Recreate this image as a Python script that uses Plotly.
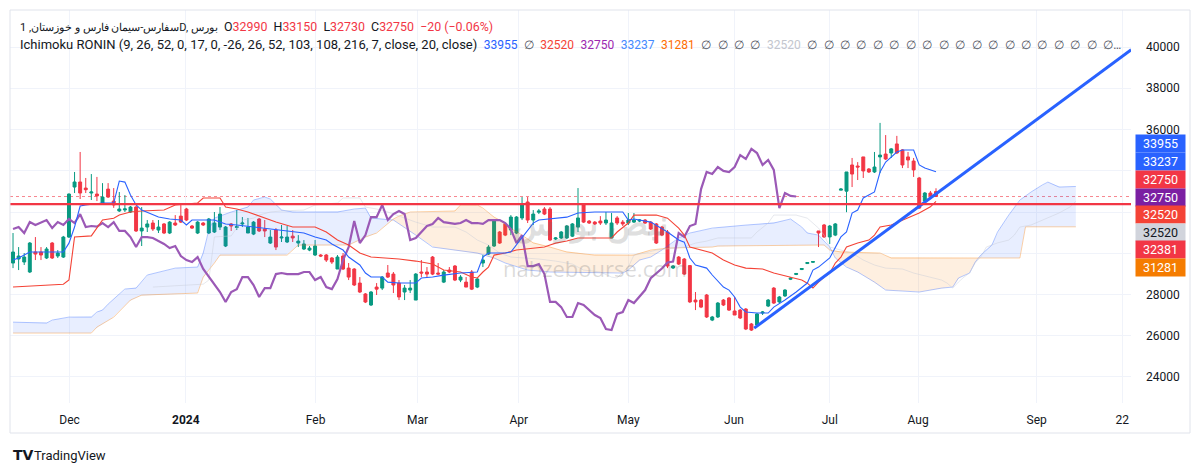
import numpy as np
import plotly.graph_objects as go

# ---------------- data ----------------
opens = [29525,29720,29575,29090,30060,30060,29770,30495,29865,29815,
         30785,33210,33455,33160,32920,32870,32435,33110,32530,32050,
         32100,32000,32240,31080,31270,31465,31125,31420,30980,31465,
         31800,32145,31320,30980,31465,30980,31030,31270,30350,31420,
         31250,31420,30980,30930,31660,31175,30495,31125,30740,30545,
         30830,30495,30205,30155,29915,29915,29915,29770,29235,29865,
         29280,29235,28555,28025,27490,28360,28310,29040,28990,28555,
         28120,28215,27730,29090,29090,29815,29040,28600,29185,29380,
         28700,28600,29090,28360,29525,29960,30350,31030,31420,31125,
         30980,31710,32485,31610,31990,32145,32145,30690,30740,30740,
         30830,31270,32340,31560,31510,31560,31465,30740,31710,31510,
         31465,31510,31560,31610,31510,31420,31270,31030,29285,29815,
         29720,29400,27730,27730,27975,26760,26910,27730,27830,27200,
         27245,27295,26570,26520,27100,27440,28310,27640,27930,28740,
         28970,29210,29500,29560,31080,31370,30790,30880,33060,33010,
         34280,34230,34670,34085,33940,34670,34810,34860,35300,35010,
         34670,34470,33650,32530,32920,32990]
highs = [30980,30300,30010,30545,30785,30300,30300,30545,30155,30840,
         32900,33940,34910,33650,33840,33700,33400,33400,33160,32970,
         32820,32290,32290,32240,31610,31610,31610,31465,31560,31850,
         32340,32200,31370,31560,31510,31710,32000,32240,31320,31465,
         32100,31755,31710,31560,31710,31610,31125,31220,31370,31320,
         31125,30880,30640,30350,30640,29960,29960,29815,29915,30010,
         29525,29280,28845,28070,28170,28555,28895,29430,29090,28700,
         28460,28700,29040,29670,29330,29865,29525,29185,29330,29430,
         28940,28845,29185,28800,29915,30400,31610,31080,31465,31850,
         31800,32725,32725,32095,32145,32240,32240,30785,31080,31370,
         31465,33160,32390,31610,31560,31800,32000,31950,31800,31610,
         31950,31950,31660,31660,31560,31465,31320,31125,29430,29865,
         29770,29430,28120,27780,28025,26960,27635,27780,27880,27880,
         27295,27340,26620,27100,27200,27780,28360,27930,28260,28840,
         29040,29280,29570,29620,31080,31420,31370,31465,33160,33940,
         34620,34420,34670,34130,34910,36320,35730,35100,35690,35050,
         34910,34620,33700,32970,33020,33150]
lows = [29280,29185,29430,29040,29670,29670,29720,29720,29770,29770,
        30740,32920,32630,32920,32580,32530,32435,32680,32200,32000,
        32000,31950,31030,30350,31030,31080,30980,30930,30930,31320,
        31465,31560,31175,30930,31320,30930,30980,31125,30300,31080,
        31125,31270,30980,30880,31030,30785,30450,30155,30545,30495,
        30545,30300,30155,30100,29865,29815,29575,29480,29235,29185,
        28700,28410,28070,27585,27440,27975,28215,28800,28070,27730,
        27730,28070,27730,28845,28845,28940,28940,28555,29040,28650,
        28600,28360,28215,28310,29330,29915,30300,30450,30830,30880,
        30930,31610,31465,31370,31900,31850,30590,30640,30690,30690,
        30785,31030,31465,31420,31370,31370,31370,30740,31370,31320,
        31370,31465,31510,31420,31125,30450,30830,29280,29235,29430,
        28940,27585,27245,27340,26860,26710,26860,27440,27200,27005,
        26810,26275,26230,26470,27005,27390,27540,27585,27880,28700,
        28940,29185,29480,29540,30300,30740,30450,30830,33060,31990,
        33210,33550,33650,33890,33890,33890,34520,34620,34810,34130,
        34130,33700,32150,32490,32680,32730]
closes = [30060,29865,29815,30495,29960,29915,30205,29770,30010,30785,
          32870,33455,32920,33080,32970,32780,32725,32725,32340,32145,
          32150,32240,31080,31220,31420,31175,31270,30980,31510,31370,
          31510,31610,31220,31510,31370,31660,31465,31900,31270,31320,
          31290,31465,31270,31510,31080,31080,30785,30300,30785,30785,
          30740,30590,30450,30250,30350,29865,29670,29575,29815,29235,
          28845,28460,28120,27635,28120,28260,28845,28845,28460,27880,
          28310,28310,28990,29040,28990,28990,28990,29090,29090,28700,
          28845,28360,28260,28750,29670,30300,31560,30495,30880,31755,
          31755,32340,31610,31900,32050,31900,30640,30740,31030,31320,
          31420,31710,31510,31465,31420,31465,31610,31465,31465,31420,
          31610,31610,31610,31465,31175,30495,30880,29380,29380,29475,
          28990,27640,27640,27390,26910,26910,27585,27490,27245,27005,
          26860,26325,26275,27055,27150,27730,27585,27880,28215,28790,
          29020,29260,29550,29600,30980,30790,31320,31420,33110,33940,
          33840,34180,33990,33940,34180,34760,34570,35060,34860,34280,
          34520,34040,32190,32920,32780,32750]
bar_index = list(range(len(closes)))

# Ichimoku lines (bar index, value)
tenkan_idx = [0,1,3,9,10,11,12,13,16,18,19,20,21,22,23,25,26,28,30,31,32,36,38,40,43,45,47,50,
              52,54,56,57,59,60,62,63,64,66,67,69,72,73,75,77,80,83,84,85,88,89,90,91,92,93,94,
              99,101,104,109,110,111,114,117,119,120,121,122,124,125,127,128,129,130,131,133,135,
              136,138,140,142,143,144,146,147,148,149,150,151,152,154,155,156,158,159,161,162,163,165]
tenkan_val = [29670,29770,30060,30060,30490,31270,32290,32340,32435,32435,33500,33450,32820,32340,
              32095,31850,31755,31660,31610,31370,31610,31610,31420,31370,31270,31220,31125,31030,
              30980,30790,30640,30450,30155,29815,29430,29040,28845,28845,28600,28555,28555,28800,
              28845,28940,29040,29090,29815,30010,30010,30060,30400,30790,31125,31460,31610,31750,
              31950,32000,32000,31610,31660,31510,31030,30640,30540,29770,29430,29280,28945,28360,
              28215,27880,27390,27150,27100,27100,27390,27730,28120,28555,29185,29330,29770,30250,
              30790,31030,31950,32095,32680,32970,33940,34420,34910,35005,35005,34280,34130,33955]
kijun_idx = [0,9,10,11,14,16,18,19,21,23,27,29,31,33,34,37,38,40,42,46,47,50,54,56,58,60,62,64,69,
             72,75,77,80,82,83,84,85,86,88,90,92,95,96,97,99,101,107,108,110,111,115,117,119,120,
             121,123,125,127,129,131,134,136,139,141,142,143,144,145,146,147,148,149,151,153,154,
             155,157,159,161,162,164,165]
kijun_val = [28360,28500,28700,30790,30840,31610,31700,31850,32000,32050,32095,32340,32390,32435,
             32680,32680,32240,32145,32000,31610,31510,31270,31270,31030,30640,30400,30010,29815,
             29720,29620,29475,29185,29090,28845,28800,29090,29330,29910,30010,30155,30200,30300,
             30400,30490,30590,30740,30740,31030,31465,31850,31850,31700,31220,30880,30300,30155,
             30010,29670,29430,29280,29235,29040,28845,28700,28550,28310,28600,28845,29040,29525,
             29815,30300,30500,30640,30880,31270,31370,31610,31850,31950,32250,32520]
spanA_idx = [0,6,7,10,14,15,16,17,20,22,24,26,29,33,34,35,36,39,42,43,45,46,48,50,58,61,63,64,67,68,
             72,75,83,86,88,92,96,104,109,110,112,114,116,118,119,121,125,131,136,139,141,142,144,
             146,147,149,151,154,156,162,166,168,169,171,172,173,175,176,178,180,182,184,185,187,190]
spanA_val = [26660,26615,26760,26905,26905,27150,27245,27535,28265,28310,28945,29090,29280,29330,
             30010,31125,31705,32000,32240,32580,32725,32630,32095,32000,32000,32145,32190,31705,
             31660,31610,30880,30300,30010,29770,29525,29185,29090,29040,29040,29185,29670,29815,
             30155,30545,30740,30980,31220,31365,31465,31660,31270,30980,30880,30300,29770,29330,
             29090,28600,28215,28120,28310,28360,28795,29040,29570,29910,30400,31030,31850,32580,
             32970,33310,33450,33210,33237]
spanB_idx = [0,14,15,18,21,23,33,34,36,37,49,51,60,62,63,65,67,68,69,71,79,80,83,84,86,87,88,91,93,
             96,99,104,111,114,117,125,126,145,146,148,155,157,180,181,190]
spanB_val = [26130,26130,26420,26900,27730,27970,28070,28845,29525,29910,29910,30400,30400,30640,
             30785,30980,31465,31660,31800,32000,32050,32340,32340,32190,31750,31610,31370,30880,
             30500,30300,30060,29910,29910,30155,30250,30300,30350,30400,30155,30060,30010,29770,
             29770,31281,31281]
displacement = 25          # chart offset of the lagging / leading spans (bars)

tick_pos = [10.1, 30.9, 54.1, 72.3, 90.4, 110.0, 128.9, 146.0, 161.8, 183.0, 198.3]
tick_text = ["Dec", "<b>2024</b>", "Feb", "Mar", "Apr", "May", "Jun", "Jul", "Aug", "Sep", "22"]
price_ticks = [24000, 26000, 28000, 30000, 32000, 34000, 36000, 38000, 40000]
price_hidden = [30000, 32000, 34000]      # covered by the price-scale labels in the reference

hline_level = 32381
last_close = 32750
trend_idx = [132.5, 199.9]
trend_val = [26370, 39870]

axis_label_text = ["33955", "33237", "32750", "32750", "32520", "32520", "32381", "31281"]
axis_label_bg = ["#2962ff", "#2962ff", "#f23645", "#7b1fa2", "#f44336", "#d1d4dc", "#f23645", "#f57c00"]
axis_label_fg = ["#ffffff", "#ffffff", "#ffffff", "#ffffff", "#ffffff", "#131722", "#ffffff", "#ffffff"]
axis_label_ypx = [143.5, 161, 179, 197, 214.5, 232, 249.5, 267.5]

ohlc_text = [("O", "32990"), ("H", "33150"), ("L", "32730"), ("C", "32750")]
change_text = "−20 (−0.06%)"
title_text = "سفارس-سیمان فارس و خوزستان, 1D, بورس"
ind_title = "Ichimoku RONIN (9, 26, 52, 0, 17, 0, -26, 26, 52, 103, 108, 216, 7, close, 20, close)"
ind_values = [("33955", "#2962ff"), ("∅", "#50535e"), ("32520", "#f44336"), ("32750", "#9c27b0"),
              ("33237", "#448aff"), ("31281", "#ff6d00"), ("∅", "#50535e"), ("∅", "#50535e"),
              ("∅", "#50535e"), ("∅", "#50535e"), ("32520", "#c3c6ce")] + [("∅", "#50535e")] * 18 + [("∅…", "#50535e")]

# ---------------- figure ----------------
L, R, T, B = 10, 69, 10, 68
W, H = 1200, 471
PW, PH = W - L - R, H - T - B


def px_x(x):
    return (x - L) / PW


def px_y(y):
    return (H - B - y) / PH


fig = go.Figure()

# cloud fills (split where the spans cross)
g = np.linspace(0, max(spanA_idx), 3801)
a = np.interp(g, spanA_idx, spanA_val)
b = np.interp(g, spanB_idx, spanB_val)
up = a >= b
start = 0
n = len(g)
for i in range(1, n + 1):
    if i == n or up[i] != up[start]:
        end = min(i + 1, n)
        xs = np.concatenate([g[start:end], g[start:end][::-1]])
        ys = np.concatenate([a[start:end], b[start:end][::-1]])
        fig.add_trace(go.Scatter(x=xs, y=ys, mode="lines", line=dict(width=0), fill="toself",
                                 fillcolor="rgba(41,98,255,0.11)" if up[start] else "rgba(245,124,0,0.12)",
                                 hoverinfo="skip"))
        start = i

fig.add_trace(go.Scatter(x=spanA_idx, y=spanA_val, mode="lines",
                         line=dict(color="rgba(41,98,255,0.35)", width=1)))
fig.add_trace(go.Scatter(x=spanB_idx, y=spanB_val, mode="lines",
                         line=dict(color="rgba(245,124,0,0.35)", width=1)))
# kijun carried forward (faint grey)
kf_x = [i + displacement for i in kijun_idx]
fig.add_trace(go.Scatter(x=kf_x, y=kijun_val, mode="lines",
                         line=dict(color="rgba(200,204,214,0.45)", width=1)))

fig.add_trace(go.Candlestick(
    x=bar_index, open=opens, high=highs, low=lows, close=closes,
    increasing=dict(line=dict(color="#089981", width=1), fillcolor="#089981"),
    decreasing=dict(line=dict(color="#f23645", width=1), fillcolor="#f23645"),
    whiskerwidth=0))

# lagging span = close drawn 25 bars back
chikou_x = bar_index[:len(closes) - displacement]
chikou_y = closes[displacement:]
fig.add_trace(go.Scatter(x=chikou_x, y=chikou_y, mode="lines",
                         line=dict(color="#9b59b6", width=2.2)))
fig.add_trace(go.Scatter(x=kijun_idx, y=kijun_val, mode="lines",
                         line=dict(color="#f44336", width=1.1)))
fig.add_trace(go.Scatter(x=tenkan_idx, y=tenkan_val, mode="lines",
                         line=dict(color="#2962ff", width=1.1)))
fig.add_trace(go.Scatter(x=trend_idx, y=trend_val, mode="lines",
                         line=dict(color="#2962ff", width=3)))

fig.add_shape(type="line", xref="paper", x0=0, x1=1, yref="y", y0=last_close, y1=last_close,
              line=dict(color="rgba(242,54,69,0.6)", width=1, dash="dot"), layer="below")
fig.add_shape(type="line", xref="paper", x0=0, x1=1, yref="y", y0=hline_level, y1=hline_level,
              line=dict(color="#f23645", width=2.2), layer="above")
# outer frame
fig.add_shape(type="rect", xref="paper", yref="paper", x0=0, x1=px_x(1190), y0=px_y(433), y1=1,
              line=dict(color="#e0e3eb", width=1), fillcolor="rgba(0,0,0,0)", layer="above")

annotations = []
for txt, bg, fg, ypx in zip(axis_label_text, axis_label_bg, axis_label_fg, axis_label_ypx):
    annotations.append(dict(xref="paper", yref="paper", x=px_x(1160.5), y=px_y(ypx), text=txt,
                            showarrow=False, bgcolor=bg, width=49, height=17, borderpad=0,
                            font=dict(color=fg, size=12.5, family="Roboto"),
                            xanchor="center", yanchor="middle"))

red = "#f23645"
line1 = "<span style='font-size:11px'>%s</span>\u00a0\u00a0" % title_text
for k, v in ohlc_text:
    line1 += "<span style='color:#131722'>%s</span><span style='color:%s'>%s</span>\u00a0\u00a0" % (k, red, v)
line1 += "<span style='color:%s'>%s</span>" % (red, change_text)
annotations.append(dict(xref="paper", yref="paper", x=px_x(18), y=px_y(26), text=line1, showarrow=False,
                        xanchor="left", yanchor="middle", font=dict(size=12.4, color="#131722", family="Roboto")))
line2 = ind_title + "\u00a0\u00a0" + "\u00a0\u00a0".join(
    "<span style='color:%s;font-size:12px'>%s</span>" % (c, t) for t, c in ind_values)
annotations.append(dict(xref="paper", yref="paper", x=px_x(18), y=px_y(45), text=line2, showarrow=False,
                        xanchor="left", yanchor="middle", font=dict(size=13, color="#131722", family="Roboto")))

# watermark
annotations.append(dict(xref="paper", yref="paper", x=px_x(590), y=px_y(222), text="<b>نبض بورس</b>",
                        showarrow=False, font=dict(size=34, color="rgba(110,110,110,0.22)", family="Noto Sans")))
annotations.append(dict(xref="paper", yref="paper", x=px_x(595), y=px_y(268), text="nabzebourse.com",
                        showarrow=False, font=dict(size=22, color="rgba(110,110,110,0.25)", family="Open Sans")))
# TradingView logo
annotations.append(dict(xref="paper", yref="paper", x=px_x(11), y=px_y(455), text="<b>TV</b>",
                        showarrow=False, xanchor="left", yanchor="middle",
                        font=dict(size=14, color="#131722", family="DejaVu Sans")))
annotations.append(dict(xref="paper", yref="paper", x=px_x(32), y=px_y(455), text="TradingView",
                        showarrow=False, xanchor="left", yanchor="middle",
                        font=dict(size=13, color="#131722", family="Roboto")))

fig.update_layout(
    width=W, height=H, autosize=False,
    margin=dict(l=L, r=R, t=T, b=B),
    paper_bgcolor="#ffffff", plot_bgcolor="#ffffff",
    showlegend=False, boxgap=0.25,
    font=dict(family="Roboto", size=12, color="#131722"),
    annotations=annotations,
    xaxis=dict(range=[-0.54, 199.86], tickmode="array", tickvals=tick_pos, ticktext=tick_text,
               showgrid=True, gridcolor="#f0f3fa", zeroline=False, showline=False, ticks="",
               rangeslider=dict(visible=False), tickfont=dict(size=12, color="#131722"),
               ticklabelstandoff=8, fixedrange=True),
    yaxis=dict(side="right", range=[22739, 41794], tickmode="array", tickvals=price_ticks,
               ticktext=["" if v in price_hidden else str(v) for v in price_ticks],
               showgrid=True, gridcolor="#f0f3fa", zeroline=False, showline=False, ticks="",
               tickfont=dict(size=12, color="#131722"), ticklabelstandoff=14, fixedrange=True),
)

fig.write_html("out.html", config={"displayModeBar": False},
               post_script="document.body.style.margin='0px';")
